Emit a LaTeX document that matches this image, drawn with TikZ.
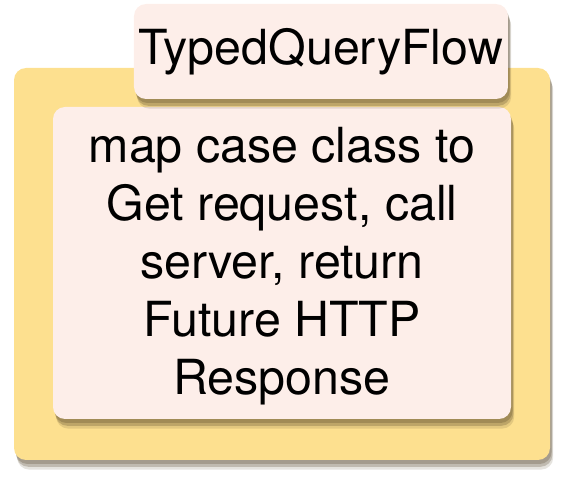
\documentclass[tikz,border=0pt]{standalone}
\usepackage{fontspec}
\setmainfont{TeX Gyre Heros}
\usetikzlibrary{shadows}
\definecolor{grpyellow}{RGB}{253,224,143}
\definecolor{boxpink}{RGB}{253,238,233}
\definecolor{shade}{RGB}{80,64,36}
\begin{document}
\begin{tikzpicture}
		\tikzset{soft/.style={drop shadow={shadow xshift=0.04cm, shadow yshift=-0.1cm, fill=shade, opacity=0.25},
				drop shadow={shadow xshift=0.06cm, shadow yshift=-0.17cm, fill=shade, opacity=0.25},
				drop shadow={shadow xshift=0.08cm, shadow yshift=-0.24cm, fill=shade, opacity=0.15}},
			grp/.style={rectangle, rounded corners=0.3cm, fill=grpyellow, inner sep=0pt, soft},
			bx/.style={rectangle, rounded corners=0.3cm, fill=boxpink, inner sep=0pt, align=center,
				font=\fontsize{34.4}{41.2}\selectfont, soft}};
		\useasboundingbox (0, 0) rectangle (14.1, 12);

		\node[grp, minimum width=13.4cm, minimum height=9.8cm] (flow) at (7.05, 5.4) {};
		\node[bx, minimum width=11.45cm, minimum height=7.8cm, text depth=0.1cm] (map) at (7.05, 5.425)
			{map case class to\\Get request, call\\server, return\\Future HTTP\\Response};
		\node[bx, minimum width=9.35cm, minimum height=2.375cm] (title) at (8.025, 10.7125) {TypedQueryFlow};

	\end{tikzpicture}
\end{document}
